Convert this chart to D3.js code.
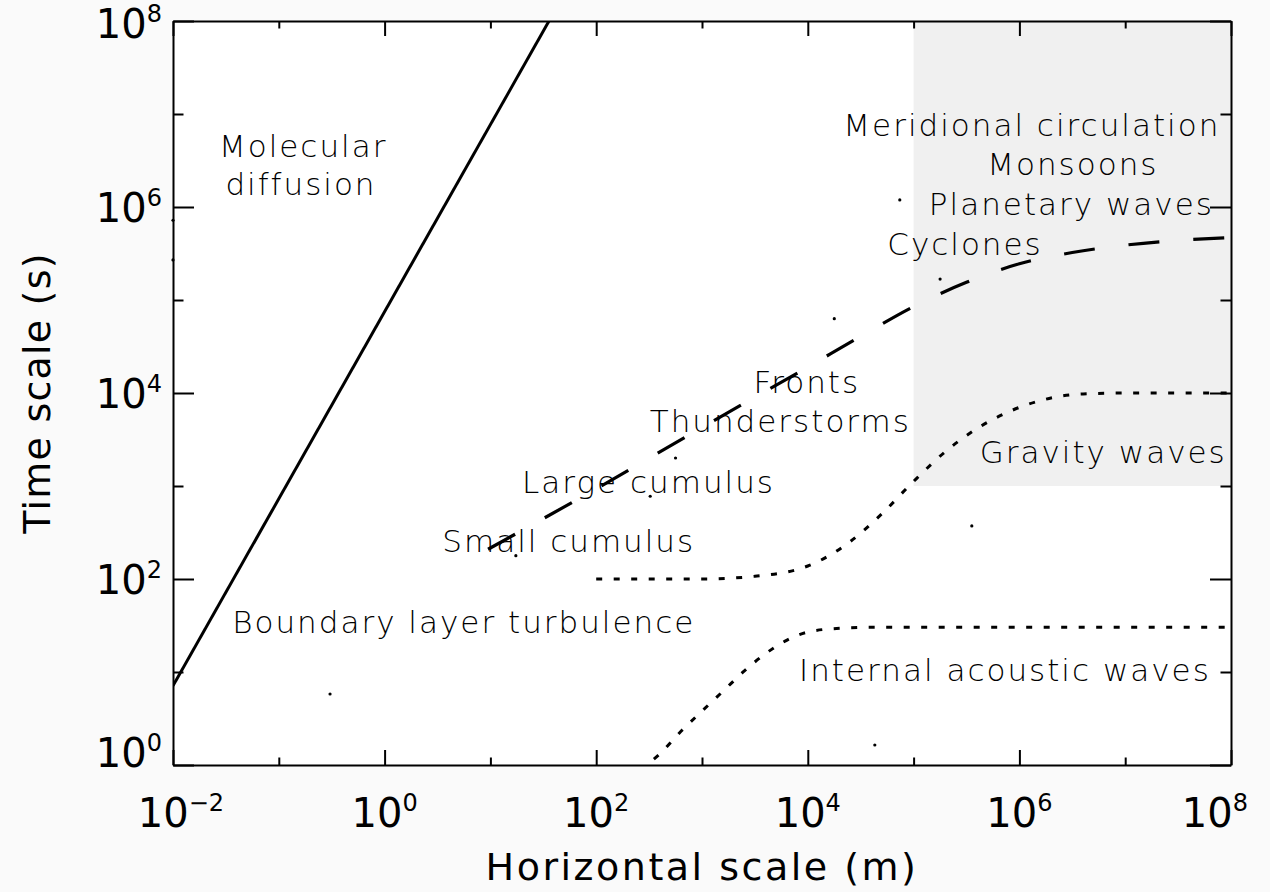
<!DOCTYPE html>
<html>
<head>
<meta charset="utf-8">
<script src="https://cdn.jsdelivr.net/npm/d3@7"></script>
<style>
  html, body { margin: 0; padding: 0; background: #fafafa; }
  svg { display: block; }
  .anno { font-family: "DejaVu Sans", sans-serif; font-weight: 200; font-size: 31px; letter-spacing: 2px; fill: #000; }
  .tick-label { font-family: "DejaVu Sans", sans-serif; font-size: 40px; fill: #000; }
  .title { font-family: "DejaVu Sans", sans-serif; font-size: 38px; letter-spacing: 2.5px; fill: #000; }
</style>
</head>
<body>
<svg id="chart" width="1270" height="892"></svg>
<script>
// ---------------- data ----------------
// Axis decades (m for x, s for y)
const xDecades = [1e-2, 1e-1, 1e0, 1e1, 1e2, 1e3, 1e4, 1e5, 1e6, 1e7, 1e8];
const yDecades = [1e0, 1e1, 1e2, 1e3, 1e4, 1e5, 1e6, 1e7, 1e8];
const xLabelValues = [1e-2, 1e0, 1e2, 1e4, 1e6, 1e8];
const xLabelExponents = ["\u22122", "0", "2", "4", "6", "8"];
const yLabelValues = [1e0, 1e2, 1e4, 1e6, 1e8];
const yLabelExponents = ["0", "2", "4", "6", "8"];

// Shaded (synoptic / planetary) region
const shadeX = [1e5, 1e8];
const shadeY = [1e3, 1e8];

// Molecular diffusion (solid line)
const diffusionX = [1e-2, 35.8];
const diffusionY = [7.1, 1e8];

// Long-dashed line (turbulent / advective time scale)
const dashedX = [9.5, 1e2, 1e3, 1e4, 3.16e4, 1e5, 3.16e5, 1e6, 3.16e6, 1e7, 3.16e7, 1e8];
const dashedY = [209, 933, 4266, 1.9e4, 4.07e4, 8.5e4, 1.55e5, 2.45e5, 3.24e5, 3.89e5, 4.37e5, 4.68e5];

// Gravity waves (dotted)
const gravityX = [1e2, 3.16e2, 1e3, 3.16e3, 1e4, 2.5e4, 5e4, 1e5, 2e5, 4e5, 8e5, 1.6e6, 4e6, 1e7, 1e8];
const gravityY = [100, 100, 100, 107, 138, 251, 501, 1122, 2344, 4169, 6310, 8318, 9772, 1e4, 1e4];

// Internal acoustic waves (dotted)
const acousticX = [2.6e2, 4e2, 6.3e2, 1e3, 1.6e3, 2.5e3, 4e3, 6.3e3, 1e4, 2e4, 4e4, 1e8];
const acousticY = [0.89, 1.32, 2.29, 3.8, 6.3, 10.2, 15.8, 21.9, 26.9, 29.5, 30.2, 30.2];

// Phenomena labels, anchored at (horizontal scale, time scale)
const labelText = ["Molecular", "diffusion", "Meridional circulation", "Monsoons", "Planetary waves",
  "Cyclones", "Fronts", "Thunderstorms", "Large cumulus", "Small cumulus",
  "Boundary layer turbulence", "Gravity waves", "Internal acoustic waves"];
const labelX = [0.17, 0.162, 1.31e6, 3.2e6, 3.1e6, 3.06e5, 9.8e3, 5.5e3, 312, 55, 5.6, 6.2e6, 7.3e5];
const labelY = [4.6e6, 1.76e6, 7.6e6, 2.9e6, 1.08e6, 4.0e5, 1.31e4, 5.0e3, 1.1e3, 256, 35, 2.32e3, 10.5];

// Small plotted points
const dotX = [0.305, 7.4e4, 1.78e5, 1.78e4, 17.4, 324, 562, 3.55e5, 4.3e4, 1e-2, 1e-2];
const dotY = [5.8, 1.19e6, 1.68e5, 6.3e4, 178, 776, 2000, 372, 1.64, 7.2e5, 2.7e5];

// ---------------- chart ----------------
const svg = d3.select("#chart");
const W = 1270, H = 892;
const plot = { left: 173, right: 1231, top: 21, bottom: 765 };

const x = d3.scaleLog().domain([1e-2, 1e8]).range([plot.left, plot.right]);
const y = d3.scaleLog().domain([1e0, 1e8]).range([plot.bottom, plot.top]);

svg.append("rect").attr("width", W).attr("height", H).attr("fill", "#fafafa");
svg.append("rect")
  .attr("x", plot.left).attr("y", plot.top)
  .attr("width", plot.right - plot.left).attr("height", plot.bottom - plot.top)
  .attr("fill", "#ffffff");

svg.append("defs").append("clipPath").attr("id", "clip")
  .append("rect")
  .attr("x", plot.left).attr("y", plot.top)
  .attr("width", plot.right - plot.left).attr("height", plot.bottom - plot.top);

// shaded region
svg.append("rect")
  .attr("x", x(shadeX[0])).attr("y", y(shadeY[1]))
  .attr("width", x(shadeX[1]) - x(shadeX[0]))
  .attr("height", y(shadeY[0]) - y(shadeY[1]))
  .attr("fill", "#f0f0f0");

const g = svg.append("g").attr("clip-path", "url(#clip)");

function series(xs, ys) { return xs.map((v, i) => [v, ys[i]]); }
const line = d3.line().x(d => x(d[0])).y(d => y(d[1]));
const curve = d3.line().x(d => x(d[0])).y(d => y(d[1])).curve(d3.curveMonotoneX);

g.append("path").attr("d", line(series(diffusionX, diffusionY)))
  .attr("fill", "none").attr("stroke", "#000").attr("stroke-width", 3);

g.append("path").attr("d", curve(series(dashedX, dashedY)))
  .attr("fill", "none").attr("stroke", "#000").attr("stroke-width", 3.2)
  .attr("stroke-dasharray", "31,34");

g.append("path").attr("d", curve(series(gravityX, gravityY)))
  .attr("fill", "none").attr("stroke", "#000").attr("stroke-width", 3)
  .attr("stroke-dasharray", "6,11.5");

g.append("path").attr("d", curve(series(acousticX, acousticY)))
  .attr("fill", "none").attr("stroke", "#000").attr("stroke-width", 3)
  .attr("stroke-dasharray", "6,11.5");

// dots
svg.append("g").selectAll("circle").data(series(dotX, dotY)).join("circle")
  .attr("cx", d => x(d[0])).attr("cy", d => y(d[1])).attr("r", 1.6).attr("fill", "#000");

// labels
svg.append("g").selectAll("text").data(labelText).join("text")
  .attr("class", "anno")
  .attr("x", (d, i) => x(labelX[i]))
  .attr("y", (d, i) => y(labelY[i]))
  .attr("dy", "0.36em")
  .attr("text-anchor", "middle")
  .text(d => d);

// axes (ticks inward)
const majorX = new Set(xLabelValues);
const majorY = new Set(yLabelValues);
const xTickLen = 15, yTickLen = 21;

function styleAxis(sel) {
  sel.select(".domain").attr("stroke", "#000").attr("stroke-width", 2);
  sel.selectAll(".tick line").attr("stroke", "#000").attr("stroke-width", 2);
  sel.selectAll(".tick text").remove();
}

const axB = svg.append("g").attr("transform", `translate(0,${plot.bottom})`)
  .call(d3.axisBottom(x).tickValues(xDecades).tickSizeOuter(0).tickFormat(""));
axB.selectAll(".tick line").attr("y2", d => -(majorX.has(d) ? xTickLen : xTickLen / 2));
styleAxis(axB);

const axT = svg.append("g").attr("transform", `translate(0,${plot.top})`)
  .call(d3.axisTop(x).tickValues(xDecades).tickSizeOuter(0).tickFormat(""));
axT.selectAll(".tick line").attr("y2", d => (majorX.has(d) ? xTickLen : xTickLen / 2));
styleAxis(axT);

const axL = svg.append("g").attr("transform", `translate(${plot.left},0)`)
  .call(d3.axisLeft(y).tickValues(yDecades).tickSizeOuter(0).tickFormat(""));
axL.selectAll(".tick line").attr("x2", d => (majorY.has(d) ? yTickLen : yTickLen / 2));
styleAxis(axL);

const axR = svg.append("g").attr("transform", `translate(${plot.right},0)`)
  .call(d3.axisRight(y).tickValues(yDecades).tickSizeOuter(0).tickFormat(""));
axR.selectAll(".tick line").attr("x2", d => -(majorY.has(d) ? yTickLen : yTickLen / 2));
styleAxis(axR);

// tick labels with superscript exponents
function powLabel(sel, exps) {
  sel.append("tspan").text("10");
  sel.append("tspan").attr("dy", -16).attr("font-size", 24).text((d, i) => exps[i]);
}

svg.append("g").selectAll("text").data(xLabelValues).join("text")
  .attr("class", "tick-label")
  .attr("x", (d, i) => i === xLabelValues.length - 1 ? 1248 : x(d) + (i === 0 ? 8 : 0))
  .attr("y", plot.bottom + 62)
  .attr("text-anchor", (d, i) => i === xLabelValues.length - 1 ? "end" : "middle")
  .call(powLabel, xLabelExponents);

svg.append("g").selectAll("text").data(yLabelValues).join("text")
  .attr("class", "tick-label")
  .attr("x", 162)
  .attr("y", d => y(d) + (d === 1 ? 2 : (d === 1e8 ? 17 : 15)))
  .attr("text-anchor", "end")
  .call(powLabel, yLabelExponents);

// axis titles
svg.append("text").attr("class", "title")
  .attr("x", (plot.left + plot.right) / 2).attr("y", 880)
  .attr("text-anchor", "middle")
  .text("Horizontal scale (m)");

svg.append("text").attr("class", "title")
  .style("letter-spacing", "1.2px")
  .attr("transform", `translate(50,${(plot.top + plot.bottom) / 2}) rotate(-90)`)
  .attr("text-anchor", "middle")
  .text("Time scale (s)");
</script>
</body>
</html>
